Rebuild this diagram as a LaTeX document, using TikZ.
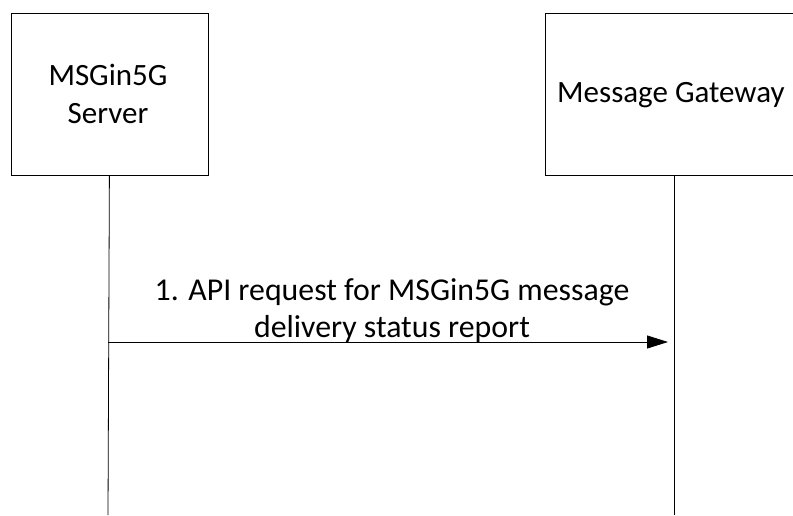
\documentclass[tikz,border=0pt]{standalone}
\usepackage{fontspec}
\setmainfont{Carlito}
\usetikzlibrary{arrows.meta}
\begin{document}
\begin{tikzpicture}[x=1pt,y=-1pt,
  line/.style={draw=black,line width=0.8pt},
  lbl/.style={font=\fontsize{31}{38}\selectfont,align=center,inner sep=0pt},
  msg/.style={font=\fontsize{31.8}{36.5}\selectfont,align=center,inner sep=0pt}]
\useasboundingbox (0,0) rectangle (793,515);
\node[line,rectangle,minimum width=197pt,minimum height=162pt,anchor=north west] (srv) at (10.5,13) {};
\node[line,rectangle,minimum width=260pt,minimum height=162pt,anchor=north west] (gw) at (545,13) {};
\node[lbl,anchor=base] (srvt) at (108,123) {MSGin5G\\Server};
\node[lbl,anchor=base west] (gwt) at (557,102) {Message Gateway};
\coordinate (l1b) at (108,515);
\coordinate (l2t) at (674.5,175);
\coordinate (l2b) at (674.5,515);
\draw[line] (srv.south) -- (l1b);
\draw[line] (l2t) -- (l2b);
\coordinate (a1) at (108,342);
\coordinate (a2) at (668,342);
\draw[line,-{Triangle[length=21pt,width=13pt]}] (a1) -- (a2);
\node[msg,anchor=base] (m1) at (392,337) {1. API request for MSGin5G message\\delivery status report};
\end{tikzpicture}
\end{document}
